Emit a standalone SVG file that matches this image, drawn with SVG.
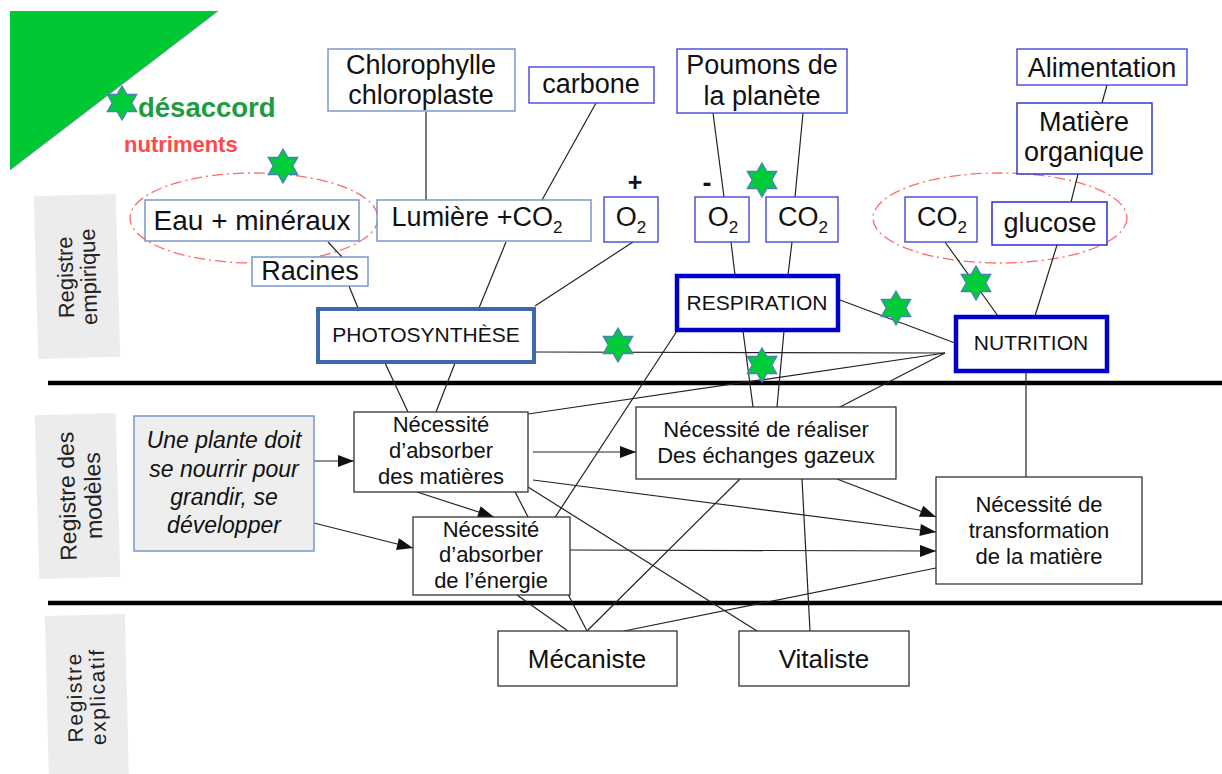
<svg xmlns="http://www.w3.org/2000/svg" width="1222" height="774" viewBox="0 0 1222 774">
<style>
text{font-family:"Liberation Sans",Arial,sans-serif;fill:#111}
.t27{font-size:27px;text-anchor:middle}
.t22{font-size:22px;text-anchor:middle}
.t20{font-size:20px;text-anchor:middle}
.sub{font-size:17px}
.bs{fill:#fff;stroke:#6f90c8;stroke-width:1.4}
.bp{fill:#fff;stroke:#4646dd;stroke-width:1.4}
.bk{fill:#fff;stroke:#333;stroke-width:1.3}
.reg{fill:#ececec}
.rt{font-size:22px;text-anchor:middle;fill:#222}
.c{stroke:#222;stroke-width:1.2;fill:none}
.a{stroke:#222;stroke-width:1.2;fill:none;marker-end:url(#arr)}
.ell{fill:none;stroke:#ff6a6a;stroke-width:1.3;stroke-dasharray:11 4 2 4}
.sep{stroke:#000;stroke-width:4.5}
</style>
<defs>
<marker id="arr" viewBox="0 0 16 12" refX="16" refY="6" markerWidth="17" markerHeight="12" markerUnits="userSpaceOnUse" orient="auto"><path d="M0,0 L16,6 L0,12 z" fill="#111"/></marker>
<path id="star" d="M0,-17 L4.9,-8.5 L14.7,-8.5 L9.8,0 L14.7,8.5 L4.9,8.5 L0,17 L-4.9,8.5 L-14.7,8.5 L-9.8,0 L-14.7,-8.5 L-4.9,-8.5 Z" fill="#00cc3a" stroke="#4a7ebb" stroke-width="1.3"/>
</defs>
<rect width="1222" height="774" fill="#fff"/>

<g id="corner">
<polygon points="10,11 218,11 10,170" fill="#00c832"/>
<line x1="218" y1="11" x2="10" y2="170" stroke="#6a8aaa" stroke-width="0.8"/>
<text x="138" y="117" style="font-size:27.5px;font-weight:bold;fill:#1c9c40">désaccord</text>
<text x="124" y="152" style="font-size:22px;font-weight:bold;fill:#ff4848">nutriments</text>
</g>

<g id="registres">
<g transform="rotate(-1.6 77 277)"><rect class="reg" x="36" y="195" width="82" height="163"/>
<text class="rt" transform="translate(73 277) rotate(-90)">Registre</text>
<text class="rt" transform="translate(96 277) rotate(-90)">empirique</text></g>
<g transform="rotate(-1.6 77 496)"><rect class="reg" x="37" y="414" width="81" height="164"/>
<text class="rt" style="font-size:23px" transform="translate(75 496) rotate(-90)">Registre des</text>
<text class="rt" style="font-size:23px" transform="translate(101 496) rotate(-90)">modèles</text></g>
<g transform="rotate(-1.4 87 700)"><rect class="reg" x="47" y="615" width="80" height="170"/>
<text class="rt" style="font-size:21px;letter-spacing:1.5px" transform="translate(82 697) rotate(-90)">Registre</text>
<text class="rt" style="font-size:21px;letter-spacing:1.5px" transform="translate(105 697) rotate(-90)">explicatif</text></g>
</g>

<g id="separators">
<line class="sep" x1="48" y1="383" x2="1222" y2="383"/>
<line class="sep" x1="48" y1="603" x2="1222" y2="603"/>
</g>

<g id="ellipses">
<ellipse class="ell" cx="254" cy="218" rx="124" ry="45"/>
<ellipse class="ell" cx="1000" cy="218" rx="127" ry="45"/>
</g>

<g id="connectors">
<line class="c" x1="426" y1="112" x2="426" y2="200"/>
<line class="c" x1="596" y1="103" x2="542" y2="200"/>
<line class="c" x1="328" y1="242" x2="342" y2="257"/>
<line class="c" x1="349" y1="286" x2="358" y2="308"/>
<line class="c" x1="506" y1="242" x2="479" y2="308"/>
<line class="c" x1="633" y1="242" x2="535" y2="306"/>
<line class="c" x1="713" y1="113" x2="724" y2="197"/>
<line class="c" x1="803" y1="113" x2="795" y2="197"/>
<line class="c" x1="731" y1="242" x2="735" y2="275"/>
<line class="c" x1="792" y1="242" x2="788" y2="275"/>
<line class="c" x1="1107" y1="85" x2="1102" y2="103"/>
<line class="c" x1="1078" y1="174" x2="1071" y2="202"/>
<line class="c" x1="1057" y1="245" x2="1035" y2="316"/>
<line class="c" x1="945" y1="242" x2="998" y2="316"/>
<line class="c" x1="840" y1="300" x2="955" y2="343"/>
<line class="c" x1="535" y1="352" x2="945" y2="353"/>
<line class="c" x1="528" y1="414" x2="945" y2="353"/>
<line class="c" x1="838" y1="408" x2="945" y2="353"/>
<line class="c" x1="1026" y1="372" x2="1026" y2="477"/>
<line class="c" x1="385" y1="363" x2="408" y2="412"/>
<line class="c" x1="455" y1="363" x2="436" y2="412"/>
<line class="c" x1="743" y1="331" x2="753" y2="407"/>
<line class="c" x1="784" y1="331" x2="777" y2="407"/>
<line class="c" x1="552" y1="522" x2="677" y2="331"/>
<line class="a" x1="314" y1="461" x2="354" y2="461"/>
<line class="a" x1="314" y1="523" x2="413" y2="548"/>
<line class="a" x1="417" y1="492" x2="494" y2="517"/>
<line class="a" x1="533" y1="452" x2="636" y2="452"/>
<line class="a" x1="837" y1="479" x2="936" y2="517"/>
<line class="a" x1="533" y1="480" x2="936" y2="532"/>
<line class="a" x1="570" y1="550" x2="936" y2="551"/>
<line class="c" x1="936" y1="568" x2="624" y2="631"/>
<line class="c" x1="528" y1="487" x2="757" y2="631"/>
<line class="c" x1="802" y1="479" x2="810" y2="631"/>
<line class="c" x1="740" y1="479" x2="587" y2="631"/>
<line class="c" x1="512" y1="486" x2="587" y2="631"/>
<line class="c" x1="517" y1="595" x2="568" y2="631"/>
</g>

<g id="chlorophylle"><rect class="bs" x="328" y="49" width="187" height="62"/>
<text class="t27" x="421" y="74">Chlorophylle</text><text class="t27" x="421" y="104">chloroplaste</text></g>
<g id="carbone"><rect class="bp" x="529" y="67" width="125" height="36"/>
<text class="t27" x="591" y="93">carbone</text></g>
<g id="eau"><rect class="bs" x="145" y="200" width="214" height="41"/>
<text class="t27" x="252" y="230" style="font-size:28px">Eau + minéraux</text></g>
<g id="lumiere"><rect class="bs" x="377" y="200" width="214" height="41"/>
<text class="t27" x="477" y="226">Lumière +CO<tspan class="sub" dy="7">2</tspan></text></g>
<g id="plus"><text x="635" y="191" style="font-size:25px;font-weight:bold;text-anchor:middle">+</text></g>
<g id="o2-photo"><rect class="bp" x="604" y="197" width="54" height="45"/>
<text class="t27" x="631" y="226">O<tspan class="sub" dy="7">2</tspan></text></g>
<g id="poumons"><rect class="bp" x="677" y="49" width="170" height="64"/>
<text class="t27" x="762" y="74">Poumons de</text><text class="t27" x="762" y="105">la planète</text></g>
<g id="minus"><text x="707" y="192" style="font-size:27px;font-weight:bold;text-anchor:middle">-</text></g>
<g id="o2-resp"><rect class="bp" x="695" y="197" width="54" height="45"/>
<text class="t27" x="723" y="226">O<tspan class="sub" dy="7">2</tspan></text></g>
<g id="co2-resp"><rect class="bp" x="766" y="197" width="72" height="45"/>
<text class="t27" x="803" y="226">CO<tspan class="sub" dy="7">2</tspan></text></g>
<g id="alimentation"><rect class="bp" x="1017" y="49" width="170" height="36"/>
<text class="t27" x="1102" y="77">Alimentation</text></g>
<g id="matiere"><rect x="1017" y="103" width="135" height="71" fill="#fff" stroke="#2a2ad0" stroke-width="1.4"/>
<text class="t27" x="1084" y="131">Matière</text><text class="t27" x="1084" y="161">organique</text></g>
<g id="co2-nutr"><rect class="bp" x="905" y="197" width="72" height="45"/>
<text class="t27" x="942" y="226">CO<tspan class="sub" dy="7">2</tspan></text></g>
<g id="glucose"><rect x="992" y="202" width="115" height="43" fill="#fff" stroke="#1e1ecc" stroke-width="1.4"/>
<text class="t27" x="1050" y="232">glucose</text></g>
<g id="racines"><rect class="bs" x="252" y="257" width="116" height="29"/>
<text class="t27" x="310" y="280">Racines</text></g>
<g id="photosynthese"><rect x="318" y="309" width="216" height="53" fill="#fff" stroke="#3d69a8" stroke-width="4"/>
<text class="t20" x="426" y="342" style="font-size:21px">PHOTOSYNTHÈSE</text></g>
<g id="respiration"><rect x="677" y="276" width="161" height="54" fill="#fff" stroke="#0000cc" stroke-width="4.5"/>
<text class="t20" x="757" y="310" style="font-size:21px">RESPIRATION</text></g>
<g id="nutrition"><rect x="956" y="317" width="151" height="54" fill="#fff" stroke="#0000cc" stroke-width="4.5"/>
<text class="t20" x="1031" y="350" style="font-size:21px">NUTRITION</text></g>

<g id="une-plante"><rect x="134" y="416" width="180" height="135" fill="#eeeeee" stroke="#6f90c8" stroke-width="1.4"/>
<g style="font-style:italic;font-size:23px;text-anchor:middle">
<text x="224" y="448">Une plante doit</text><text x="224" y="477">se nourrir pour</text>
<text x="224" y="505">grandir, se</text><text x="224" y="533">développer</text></g></g>
<g id="matieres"><rect class="bk" x="354" y="412" width="174" height="80"/>
<text class="t22" x="441" y="432">Nécessité</text><text class="t22" x="441" y="458">d’absorber</text><text class="t22" x="441" y="484">des matières</text></g>
<g id="energie"><rect class="bk" x="413" y="517" width="157" height="78"/>
<text class="t22" x="491" y="537">Nécessité</text><text class="t22" x="491" y="562">d’absorber</text><text class="t22" x="491" y="588">de l’énergie</text></g>
<g id="realiser"><rect class="bk" x="636" y="407" width="260" height="72"/>
<text class="t22" x="766" y="437">Nécessité de réaliser</text><text class="t22" x="766" y="463">Des échanges gazeux</text></g>
<g id="transformation"><rect class="bk" x="936" y="477" width="206" height="107"/>
<text class="t22" x="1039" y="512">Nécessité de</text><text class="t22" x="1039" y="538">transformation</text><text class="t22" x="1039" y="564">de la matière</text></g>
<g id="mecaniste"><rect class="bk" x="498" y="631" width="179" height="55"/>
<text class="t27" x="587" y="668" style="font-size:26px">Mécaniste</text></g>
<g id="vitaliste"><rect class="bk" x="739" y="631" width="170" height="55"/>
<text class="t27" x="824" y="668" style="font-size:26px">Vitaliste</text></g>

<g id="stars">
<use href="#star" x="122" y="103"/>
<use href="#star" x="283" y="166"/>
<use href="#star" x="762" y="180"/>
<use href="#star" x="618" y="345"/>
<use href="#star" x="762" y="365"/>
<use href="#star" x="896" y="308"/>
<use href="#star" x="976" y="283"/>
</g>
</svg>
